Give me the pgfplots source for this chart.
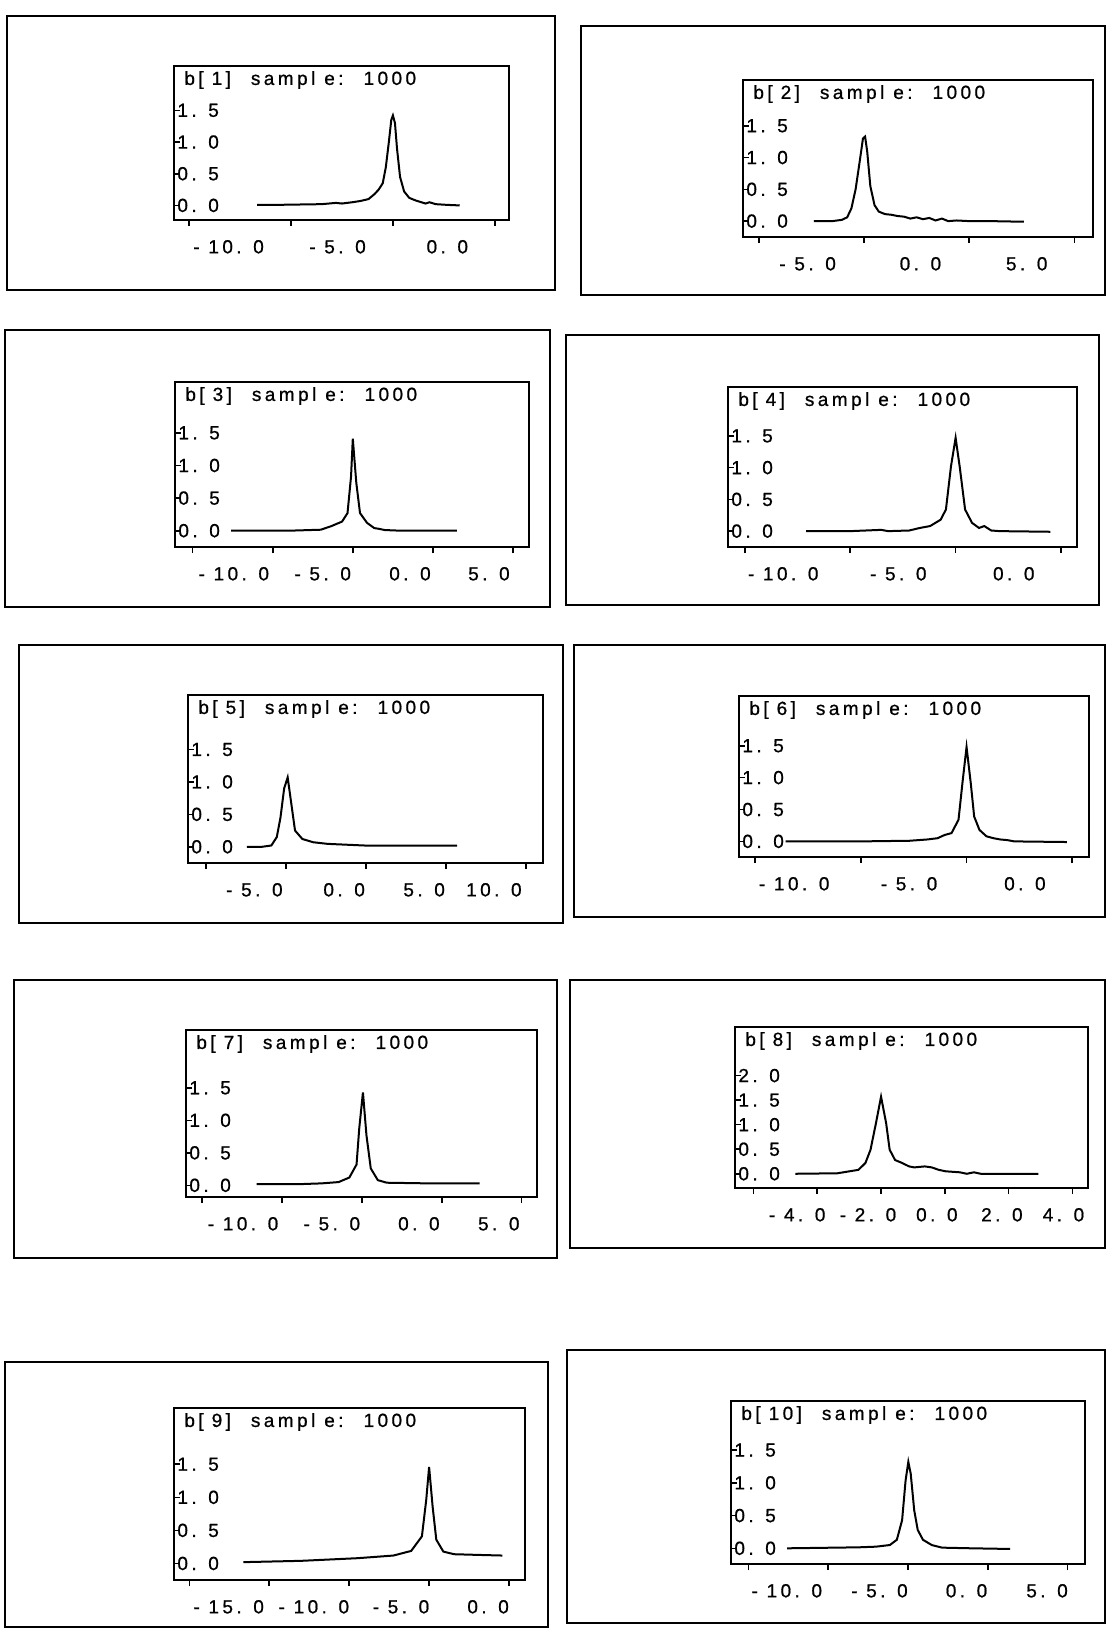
\documentclass[border=0pt]{standalone}
\usepackage{fontspec}
\setmainfont{Liberation Sans}[LetterSpace=18, FakeBold=0.8]
\usepackage{pgfplots}
\pgfplotsset{compat=1.18}
\newcommand\pfont{\fontsize{9.5}{11}\selectfont}
\pgfplotsset{
  panel/.style={
    scale only axis, anchor=north west,
    axis line style={line width=0.9pt, black},
    xtick pos=bottom, ytick pos=left,
    xtick align=outside, ytick align=inside,
    major tick length=3pt,
    tick style={line width=0.8pt, black},
    xticklabels={},
    ytick={0,0.5,1,1.5},
    yticklabels={0. 0,0. 5,1. 0,1. 5},
    yticklabel style={anchor=west, inner sep=0.5pt, xshift=1pt},
    xticklabel style={anchor=north, yshift=-6.5pt},
    extra x tick style={major tick length=0pt},
    tick label style={font=\pfont},
  },
  curve/.style={black, line width=1pt, mark=none},
}
\newcommand\ptitle[1]{\node[anchor=west, font=\pfont, inner sep=0pt, xshift=5pt, yshift=-7pt] at (rel axis cs:0,1) {b[\hspace{4pt}#1]\hspace{10pt}sampl\hspace{4.5pt}e:\hspace{10pt}1000};}
\begin{document}
\begin{tikzpicture}
\useasboundingbox (0pt,0pt) rectangle (553.5pt,-817pt);
\fill[white] (0pt,0pt) rectangle (553.5pt,-817pt);
\begin{scope}[line width=1.2pt, black]
\draw (3.5pt,-8pt) rectangle (277.5pt,-145pt);
\draw (290.5pt,-13pt) rectangle (552.5pt,-147.5pt);
\draw (2.5pt,-165pt) rectangle (275pt,-303.5pt);
\draw (283pt,-167.5pt) rectangle (549.5pt,-302.5pt);
\draw (9.5pt,-322.5pt) rectangle (281.5pt,-461.5pt);
\draw (287pt,-322.5pt) rectangle (552.5pt,-458.5pt);
\draw (7pt,-490pt) rectangle (278.5pt,-629pt);
\draw (285pt,-490pt) rectangle (552.5pt,-624pt);
\draw (2.5pt,-681pt) rectangle (274pt,-813.5pt);
\draw (283.5pt,-675pt) rectangle (552.5pt,-811.5pt);
\end{scope}

% b[1]
\begin{axis}[panel, at={(87pt,-33pt)}, width=167.5pt, height=77pt,
  xmin=-10.75, xmax=5.7, ymin=-0.23, ymax=2.2, xtick={-10,-5,0,5},
  extra x ticks={-8.07,-2.72,2.67}, extra x tick labels={- 10. 0,- 5. 0,0. 0}]
\addplot[curve] coordinates {(-6.67,0.01) (-5.5,0.01) (-4.5,0.015) (-3.5,0.02) (-2.8,0.04) (-2.5,0.03) (-2.0,0.05) (-1.6,0.07) (-1.2,0.1) (-0.9,0.18) (-0.7,0.25) (-0.5,0.35) (-0.35,0.6) (-0.2,1.0) (-0.08,1.35) (0,1.42) (0.1,1.3) (0.2,0.9) (0.35,0.45) (0.55,0.22) (0.8,0.12) (1.1,0.08) (1.4,0.05) (1.6,0.03) (1.8,0.05) (2.1,0.02) (2.6,0.01) (3.28,0.0)};
\ptitle{1}
\end{axis}

% b[2]
\begin{axis}[panel, at={(371.5pt,-40pt)}, width=175pt, height=78.5pt,
  xmin=-5.75, xmax=10.88, ymin=-0.25, ymax=2.22, xtick={-5,0,5,10},
  extra x ticks={-2.68,2.68,7.73}, extra x tick labels={- 5. 0,0. 0,5. 0}]
\addplot[curve] coordinates {(-2.38,0.0) (-1.5,0.0) (-1.05,0.02) (-0.8,0.06) (-0.6,0.2) (-0.4,0.5) (-0.2,0.95) (-0.05,1.3) (0.05,1.33) (0.15,1.1) (0.3,0.55) (0.5,0.25) (0.7,0.15) (1.0,0.11) (1.3,0.1) (1.6,0.08) (1.9,0.07) (2.2,0.04) (2.5,0.06) (2.8,0.03) (3.1,0.05) (3.4,0.01) (3.7,0.04) (4.0,0.0) (4.4,0.01) (5.0,0.0) (6.0,0.0) (7.6,-0.01)};
\ptitle{2}
\end{axis}

% b[3]
\begin{axis}[panel, at={(87.5pt,-191pt)}, width=177pt, height=82.5pt,
  xmin=-11.1, xmax=11.0, ymin=-0.25, ymax=2.28, xtick={-10,-5,0,5,10},
  extra x ticks={-7.43,-1.88,3.57,8.5}, extra x tick labels={- 10. 0,- 5. 0,0. 0,5. 0}]
\addplot[curve] coordinates {(-7.6,0) (-4,0) (-2.0,0.015) (-1.34,0.07) (-0.67,0.14) (-0.33,0.27) (-0.11,0.83) (0,1.41) (0.22,0.73) (0.45,0.27) (0.89,0.12) (1.34,0.04) (1.6,0.03) (2.0,0.01) (3,0.0) (6.5,0.0)};
\ptitle{3}
\end{axis}

% b[4]
\begin{axis}[panel, at={(364pt,-193.5pt)}, width=174.5pt, height=80pt,
  xmin=-10.8, xmax=5.76, ymin=-0.25, ymax=2.27, xtick={-10,-5,0,5},
  extra x ticks={-8.18,-2.72,2.76}, extra x tick labels={- 10. 0,- 5. 0,0. 0}]
\addplot[curve] coordinates {(-7.09,0) (-5,0) (-3.53,0.02) (-3.2,0.0) (-2.2,0.01) (-1.7,0.05) (-1.21,0.08) (-0.71,0.18) (-0.46,0.34) (-0.22,1.02) (0,1.47) (0.2,1.0) (0.45,0.34) (0.78,0.13) (1.11,0.05) (1.36,0.08) (1.69,0.01) (2.1,0.0) (4.5,-0.01)};
\ptitle{4}
\end{axis}

% b[5]
\begin{axis}[panel, at={(94pt,-347.5pt)}, width=177.5pt, height=84pt,
  xmin=-6.12, xmax=16.07, ymin=-0.25, ymax=2.34, xtick={-5,0,5,10,15},
  extra x ticks={-1.97,3.64,8.64,13.0}, extra x tick labels={- 5. 0,0. 0,5. 0,10. 0}]
\addplot[curve] coordinates {(-2.44,0.0) (-1.5,0.0) (-0.91,0.02) (-0.57,0.15) (-0.34,0.45) (-0.11,0.9) (0.11,1.07) (0.34,0.66) (0.57,0.25) (1.03,0.12) (1.71,0.07) (2.62,0.045) (3.99,0.03) (4.9,0.02) (7,0.02) (10.7,0.02)};
\ptitle{5}
\end{axis}

% b[6]
\begin{axis}[panel, at={(369.5pt,-348pt)}, width=175pt, height=80.5pt,
  xmin=-10.76, xmax=5.79, ymin=-0.245, ymax=2.28, xtick={-10,-5,0,5},
  extra x ticks={-8.15,-2.72,2.76}, extra x tick labels={- 10. 0,- 5. 0,0. 0}]
\addplot[curve] coordinates {(-8.55,0.0) (-5,0.0) (-2.69,0.01) (-1.86,0.03) (-1.37,0.05) (-1.04,0.1) (-0.71,0.13) (-0.38,0.34) (-0.18,0.96) (0,1.48) (0.2,0.91) (0.36,0.39) (0.61,0.18) (0.94,0.08) (1.27,0.05) (1.6,0.03) (1.93,0.02) (2.26,0.0) (4.74,-0.01)};
\ptitle{6}
\end{axis}

% b[7]
\begin{axis}[panel, at={(93pt,-515pt)}, width=175.5pt, height=83.5pt,
  xmin=-11.0, xmax=10.96, ymin=-0.18, ymax=2.39, xtick={-10,-5,0,5,10},
  extra x ticks={-7.43,-1.875,3.57,8.57}, extra x tick labels={- 10. 0,- 5. 0,0. 0,5. 0}]
\addplot[curve] coordinates {(-6.58,0.02) (-3.68,0.02) (-2.5,0.03) (-1.45,0.05) (-0.78,0.12) (-0.33,0.32) (-0.16,0.88) (0.07,1.43) (0.29,0.77) (0.56,0.26) (1.0,0.08) (1.56,0.04) (4.13,0.03) (7.37,0.03)};
\ptitle{7}
\end{axis}

% b[8]
\begin{axis}[panel, at={(367.5pt,-513.5pt)}, width=176.5pt, height=80.5pt,
  xmin=-4.58, xmax=6.49, ymin=-0.29, ymax=2.99, xtick={-4,-2,0,2,4,6},
  ytick={0,0.5,1,1.5,2}, yticklabels={0. 0,0. 5,1. 0,1. 5,2. 0},
  extra x ticks={-2.63,-0.41,1.75,3.79,5.72}, extra x tick labels={- 4. 0,- 2. 0,0. 0,2. 0,4. 0}]
\addplot[curve] coordinates {(-2.69,0) (-1.37,0.01) (-0.71,0.08) (-0.49,0.22) (-0.33,0.49) (-0.16,1.03) (0,1.57) (0.16,1.03) (0.27,0.49) (0.44,0.28) (0.66,0.22) (0.88,0.15) (1.04,0.13) (1.37,0.15) (1.59,0.13) (1.81,0.08) (2.03,0.05) (2.47,0.03) (2.69,0.0) (2.91,0.03) (3.13,0.0) (4.93,0.0)};
\ptitle{8}
\end{axis}

% b[9]
\begin{axis}[panel, at={(87pt,-704pt)}, width=175.5pt, height=86pt,
  xmin=-15.96, xmax=6.0, ymin=-0.25, ymax=2.35, xtick={-15,-10,-5,0,5},
  extra x ticks={-12.54,-7.21,-1.76,3.69}, extra x tick labels={- 15. 0,- 10. 0,- 5. 0,0. 0}]
\addplot[curve] coordinates {(-11.62,0.02) (-8,0.04) (-4.47,0.08) (-2.23,0.12) (-1.12,0.19) (-0.45,0.41) (-0.18,0.96) (0,1.46) (0.22,0.86) (0.45,0.36) (0.89,0.18) (1.56,0.14) (3,0.13) (4.58,0.12)};
\ptitle{9}
\end{axis}

% b[10]
\begin{axis}[panel, at={(365.5pt,-700.5pt)}, width=177pt, height=81.5pt,
  xmin=-11.1, xmax=11.1, ymin=-0.24, ymax=2.25, xtick={-10,-5,0,5,10},
  extra x ticks={-7.6,-1.79,3.67,8.72}, extra x tick labels={- 10. 0,- 5. 0,0. 0,5. 0}]
\addplot[curve] coordinates {(-7.58,0) (-3.1,0.015) (-2.01,0.025) (-1.14,0.05) (-0.7,0.13) (-0.37,0.43) (-0.15,1.04) (0.02,1.32) (0.17,1.14) (0.39,0.58) (0.61,0.28) (0.94,0.13) (1.49,0.05) (2.14,0.01) (4,0.0) (6.4,-0.01)};
\ptitle{10}
\end{axis}
\end{tikzpicture}
\end{document}
